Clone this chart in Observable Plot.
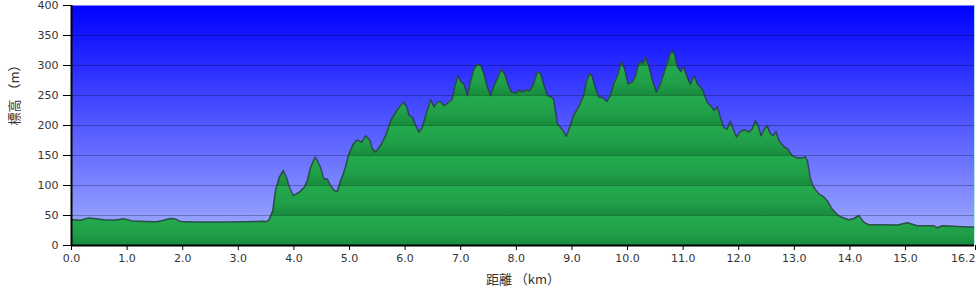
<!DOCTYPE html>
<html>
<head>
<meta charset="utf-8">
<script src="https://cdn.jsdelivr.net/npm/d3@7"></script>
<script src="https://cdn.jsdelivr.net/npm/@observablehq/plot@0.6"></script>
<style>
  html, body { margin: 0; padding: 0; background: #fff; }
</style>
</head>
<body>
<div id="chart"></div>
<script>
const distanceKm = [
  0, 0.16, 0.31, 0.40, 0.58, 0.76, 0.91, 0.97, 1.09, 1.36, 1.54, 1.66, 1.78, 1.87, 1.96,
  2.19, 2.80, 3.10, 3.44, 3.52, 3.56, 3.62, 3.67, 3.74, 3.81, 3.87, 3.92, 3.99, 4.10,
  4.19, 4.24, 4.30, 4.38, 4.42, 4.48, 4.54, 4.60, 4.66, 4.72, 4.78, 4.84, 4.92, 4.99,
  5.07, 5.14, 5.22, 5.29, 5.37, 5.41, 5.47, 5.56, 5.65, 5.74, 5.83, 5.90, 5.97, 6.03,
  6.07, 6.13, 6.19, 6.25, 6.31, 6.37, 6.46, 6.52, 6.58, 6.64, 6.70, 6.79, 6.85, 6.89,
  6.95, 7.01, 7.06, 7.12, 7.18, 7.24, 7.30, 7.36, 7.42, 7.48, 7.54, 7.60, 7.66, 7.73,
  7.79, 7.85, 7.91, 7.99, 8.05, 8.11, 8.17, 8.24, 8.31, 8.38, 8.44, 8.49, 8.56, 8.62,
  8.67, 8.74, 8.80, 8.85, 8.90, 8.96, 9.03, 9.12, 9.20, 9.26, 9.32, 9.36, 9.42, 9.48,
  9.56, 9.63, 9.69, 9.75, 9.83, 9.89, 9.95, 10.01, 10.08, 10.14, 10.20, 10.25, 10.28,
  10.32, 10.38, 10.44, 10.52, 10.59, 10.65, 10.71, 10.76, 10.80, 10.85, 10.90, 10.96,
  11.01, 11.07, 11.13, 11.20, 11.26, 11.31, 11.36, 11.43, 11.51, 11.56, 11.61, 11.67,
  11.73, 11.79, 11.85, 11.90, 11.96, 12.03, 12.10, 12.18, 12.24, 12.30, 12.35, 12.40,
  12.46, 12.51, 12.57, 12.62, 12.67, 12.72, 12.81, 12.88, 12.96, 13.05, 13.14, 13.20,
  13.24, 13.29, 13.35, 13.44, 13.53, 13.59, 13.68, 13.77, 13.83, 13.98, 14.07, 14.16,
  14.25, 14.34, 14.61, 14.85, 15.04, 15.21, 15.51, 15.57, 15.66, 16.23, 16.24
];
const elevationM = [
  43, 42, 46, 45, 43, 42, 44, 44, 41, 40, 39.5, 42, 45, 44, 40,
  39, 39, 39.5, 40.5, 40, 44, 58, 92, 114, 125, 113, 97, 83, 89,
  97, 108, 130, 147, 142, 130, 111, 111, 100, 92, 90, 108, 128, 153,
  169, 176, 172, 183, 175, 161, 156, 167, 183, 208, 222, 231, 239, 231,
  217, 214, 200, 189, 197, 217, 243, 231, 239, 239, 233, 239, 244, 264,
  283, 272, 269, 250, 275, 294, 302, 300, 286, 264, 250, 267, 278, 294,
  286, 269, 256, 254, 259, 256, 259, 258, 269, 290, 286, 269, 250, 248,
  244, 203, 196, 190, 182, 197, 217, 231, 247, 272, 287, 283, 264, 248,
  246, 240, 250, 269, 286, 306, 294, 269, 272, 281, 302, 307, 303,
  314, 300, 278, 256, 269, 286, 303, 317, 325, 318, 297, 290,
  298, 281, 269, 283, 269, 264, 258, 239, 231, 225, 232, 214,
  197, 194, 207, 194, 181, 190, 193, 189, 194, 208, 200, 183,
  194, 200, 186, 183, 190, 175, 165, 161, 150, 146, 146, 148,
  139, 111, 97, 86, 81, 75, 61, 52, 48, 43, 45, 50,
  39, 34.5, 34.5, 34, 38, 33, 33, 29.5, 33, 30.5, 30.5
];
const yTicks = [0, 50, 100, 150, 200, 250, 300, 350, 400];
const gridValues = [50, 100, 150, 200, 250, 300, 350];
const xTicks = [0, 1, 2, 3, 4, 5, 6, 7, 8, 9, 10, 11, 12, 13, 14, 15, 16.24];
const xTickLabels = ["0.0", "1.0", "2.0", "3.0", "4.0", "5.0", "6.0", "7.0", "8.0", "9.0",
  "10.0", "11.0", "12.0", "13.0", "14.0", "15.0", "16.2"];
const xTitle = "距離 （km）";
const yTitle = "標高 （m）";

const data = distanceKm.map((d, i) => ({km: d, elev: elevationM[i]}));
const xMax = distanceKm[distanceKm.length - 1];
const fmtX = d => xTickLabels[xTicks.indexOf(d)];

function defsMark(index, scales, values, dimensions) {
  const y = scales.y;
  const top = y(400), bottom = y(0), band = y(350) - y(400);
  const defs = d3.create("svg:defs");
  const bg = defs.append("linearGradient")
    .attr("id", "skybg").attr("gradientUnits", "userSpaceOnUse")
    .attr("x1", 0).attr("x2", 0).attr("y1", top).attr("y2", bottom);
  bg.append("stop").attr("offset", 0).attr("stop-color", "#0000ff");
  bg.append("stop").attr("offset", 1).attr("stop-color", "#a6b2ff");
  const gr = defs.append("linearGradient")
    .attr("id", "groundband").attr("gradientUnits", "userSpaceOnUse")
    .attr("spreadMethod", "repeat")
    .attr("x1", 0).attr("x2", 0).attr("y1", top).attr("y2", top + band);
  gr.append("stop").attr("offset", 0).attr("stop-color", "#24ab4e");
  gr.append("stop").attr("offset", 0.55).attr("stop-color", "#20a149");
  gr.append("stop").attr("offset", 1).attr("stop-color", "#188c3d");
  return defs.node();
}

const chart = Plot.plot({
  width: 980,
  height: 297,
  marginLeft: 71,
  marginRight: 6,
  marginTop: 5,
  marginBottom: 52,
  style: {fontFamily: "'DejaVu Sans', 'Noto Sans CJK JP', sans-serif", fontSize: "11px", color: "#333", background: "#fff"},
  x: {domain: [0, xMax]},
  y: {domain: [0, 400]},
  marks: [
    defsMark,
    Plot.frame({fill: "url(#skybg)", stroke: null}),
    Plot.areaY(data, {x: "km", y: "elev", fill: "url(#groundband)"}),
    Plot.gridY(gridValues, {stroke: "#000", strokeOpacity: 0.28, strokeWidth: 1}),
    Plot.line(data, {x: "km", y: "elev", stroke: "#2b3340", strokeWidth: 1.5, strokeOpacity: 0.75}),
    Plot.ruleX([xMax], {stroke: "#b8f0e0", strokeWidth: 1, strokeOpacity: 0.8}),
    Plot.axisY({ticks: yTicks, tickSize: 8, tickPadding: 5, label: null, stroke: "#000", fill: "#333"}),
    Plot.axisX({ticks: xTicks.slice(0, -1), tickSize: 5, tickPadding: 4, label: null, stroke: "#000", fill: "#333",
      tickFormat: fmtX}),
    Plot.axisX({ticks: xTicks.slice(-1), tickSize: 5, tickPadding: 4, label: null, stroke: "#000", fill: "#333",
      textAnchor: "end", dx: 1, tickFormat: fmtX}),
    Plot.ruleX([0], {stroke: "#000", strokeWidth: 2}),
    Plot.ruleY([0], {stroke: "#000", strokeWidth: 2}),
    Plot.text([xTitle], {frameAnchor: "bottom", dy: 38, text: d => d, fontSize: 13, fill: "#333",
      fontFamily: "'Noto Sans CJK JP', 'DejaVu Sans', sans-serif"}),
    Plot.text([yTitle], {frameAnchor: "left", dx: -57, text: d => d, rotate: -90, fontSize: 13, fill: "#333",
      fontFamily: "'Noto Sans CJK JP', 'DejaVu Sans', sans-serif"})
  ]
});
document.getElementById("chart").appendChild(chart);
</script>
</body>
</html>
